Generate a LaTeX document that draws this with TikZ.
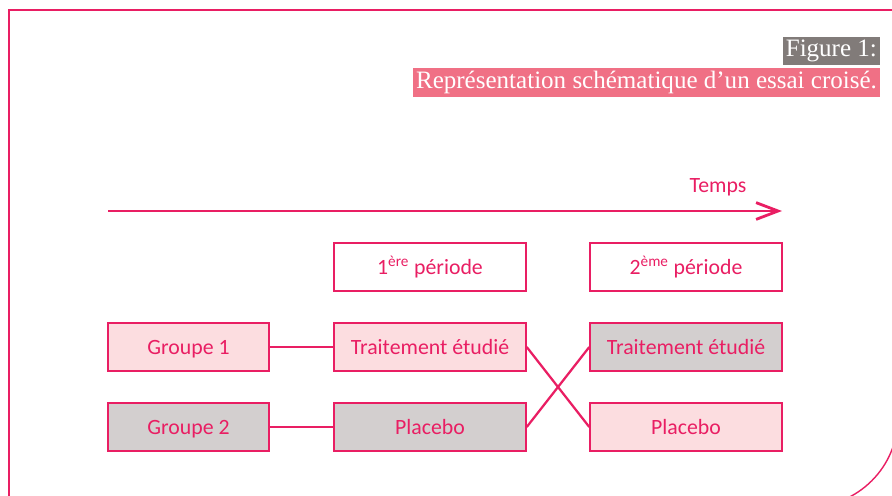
\documentclass[tikz,border=0pt]{standalone}
\usepackage{fontspec}
\setmainfont{Carlito}
\newfontfamily\titlefont{Liberation Serif}
\usepackage{xcolor}
\usetikzlibrary{arrows.meta,positioning}

\definecolor{mag}{HTML}{E91E63}
\definecolor{pinkfill}{HTML}{FCDDE0}
\definecolor{greyfill}{HTML}{D3CFCF}
\definecolor{titlegrey}{HTML}{817B79}
\definecolor{titlepink}{HTML}{F07085}

\begin{document}
\begin{tikzpicture}[x=0.025cm,y=-0.025cm,font=\fontsize{15.5}{18}\selectfont,
  box/.style={draw=mag,line width=1pt,text=mag,minimum height=1.2cm,inner sep=0pt,
    text height=11pt,text depth=1pt},
  wide/.style={box,minimum width=4.8cm},
  grp/.style={box,minimum width=4.025cm},
  pinkbox/.style={fill=pinkfill},
  greybox/.style={fill=greyfill},
  link/.style={draw=mag,line width=2pt},
  cross/.style={draw=mag,line width=1.6pt},
  caption/.style={text=white,anchor=north east,inner sep=2pt,
    font=\titlefont\fontsize{17.8}{21}\selectfont}]
\useasboundingbox (0,0) rectangle (892,495);
\clip (0,0) rectangle (892,495);
% frame
\draw[mag,line width=1.5pt] (9,505) -- (9,10) -- (900,10);
\draw[mag,line width=1pt] (898,380) -- (898,417) .. controls (898,467) and (858,507) .. (808,507);
% title
\node[caption,fill=titlegrey] (fig) at (880,37) {Figure 1:};
\node[caption,fill=titlepink] (title) at (880,68) {Représentation schématique d’un essai croisé.};
% time axis
\coordinate (t0) at (108,211);
\coordinate (t1) at (782,211);
\draw[mag,line width=2pt,-{Straight Barb[length=5.5mm,width=4.2mm]}] (t0) -- (t1);
\node[text=mag] (temps) at (718,187) {Temps};
% periods
\node[wide,fill=white] (p1) at (430,267) {1\textsuperscript{ère} période};
\node[wide,fill=white] (p2) at (686,267) {2\textsuperscript{ème} période};
% groups and treatments
\node[grp,pinkbox] (g1) at (188.5,347) {Groupe 1};
\node[grp,greybox] (g2) at (188.5,427) {Groupe 2};
\node[wide,pinkbox] (te1) at (430,347) {Traitement étudié};
\node[wide,greybox] (pl1) at (430,427) {Placebo};
\node[wide,greybox] (te2) at (686,347) {Traitement étudié};
\node[wide,pinkbox] (pl2) at (686,427) {Placebo};
\draw[link] (g1) -- (te1);
\draw[link] (g2) -- (pl1);
\draw[cross] (te1.east) -- (pl2.west);
\draw[cross] (pl1.east) -- (te2.west);
\end{tikzpicture}
\end{document}
